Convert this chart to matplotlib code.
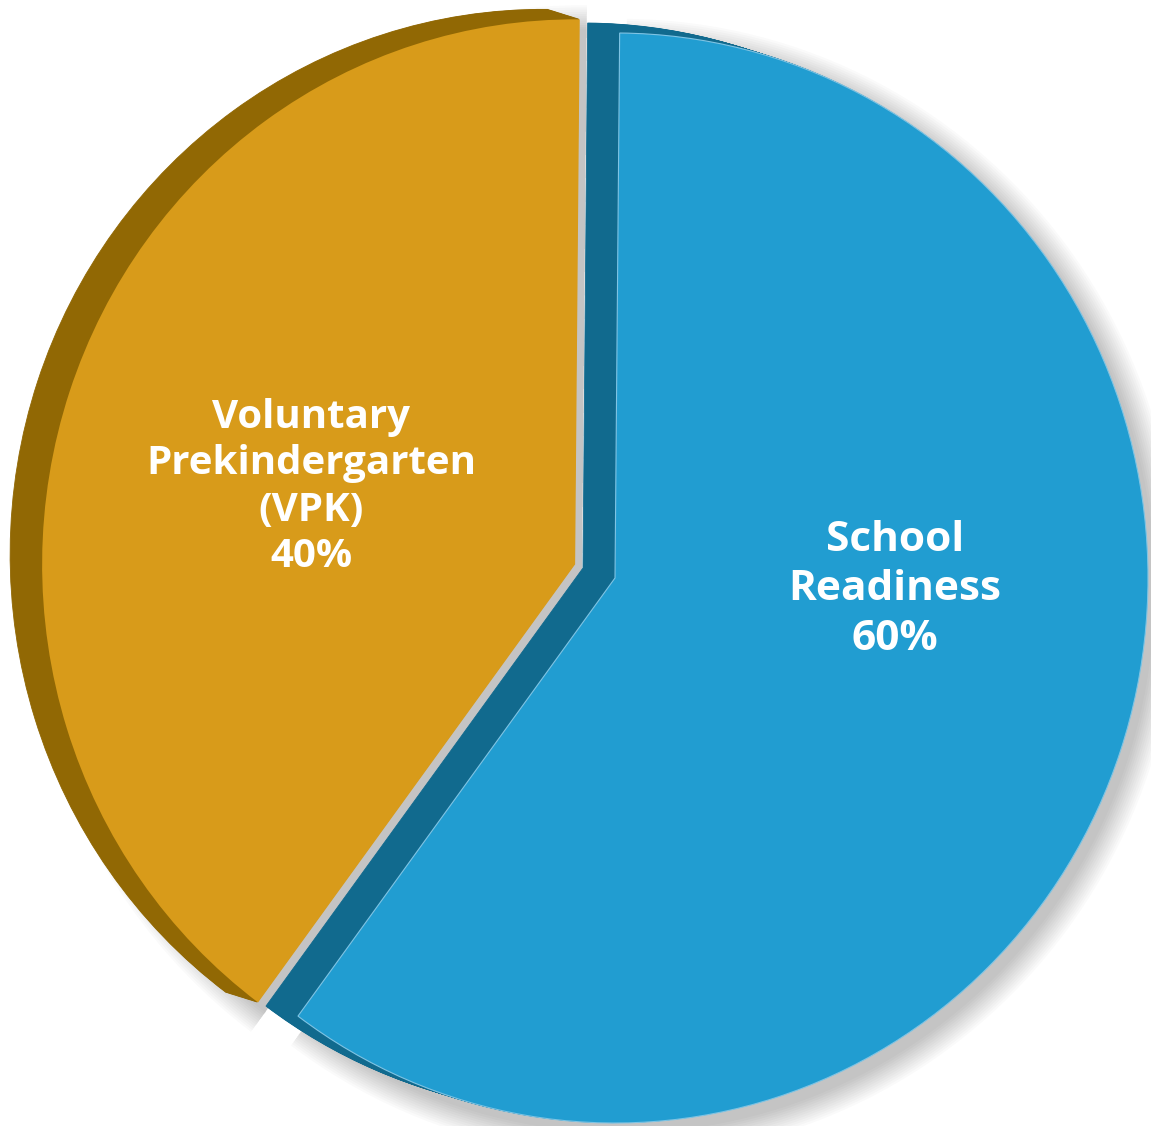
import matplotlib
matplotlib.use("Agg")
import matplotlib.pyplot as plt
import numpy as np

# ---- data ----
categories = ["School\nReadiness", "Voluntary\nPrekindergarten\n(VPK)"]
shares = [60, 40]
pct_labels = ["60%", "40%"]
face_colors = ["#219DD1", "#D89B1A"]
side_colors = ["#116A8E", "#916804"]

# ---- layout ----
W, H = 1151, 1126
SX = 545 / 533.0            # slight horizontal squash (tilted look)
R = 545.0
START = 89.5
EXPLODE = [0, 43]


def px(x, y):
    """pixel position -> data position"""
    return x * SX, H - y


cx, cy = px(615, 578)
ext_dx, ext_dy = -32 * SX, 10     # extrusion direction (up-left)
sh_dx, sh_dy = 7 * SX, -10        # shadow direction (down-right)

fig = plt.figure(figsize=(W / 100, H / 100), dpi=100)
ax = fig.add_axes([0, 0, 1, 1])


def layer(dx, dy, colors, radius=R, alpha=1.0, lw=0.0, ec=None):
    wedges, _ = ax.pie(shares, colors=colors, startangle=START,
                       counterclock=False, radius=radius,
                       center=(cx + dx, cy + dy), explode=EXPLODE,
                       frame=True,
                       wedgeprops=dict(linewidth=lw, alpha=alpha,
                                       edgecolor=ec if ec else "none"))
    return wedges


# soft shadow
for k in range(12):
    layer(sh_dx, sh_dy, ["black", "black"], radius=R + 2.2 * k, alpha=0.02)

# extrusion (side walls)
N = 28
for i in range(N, 0, -1):
    f = i / N
    w = layer(ext_dx * f, ext_dy * f, side_colors)
    for wd, c in zip(w, side_colors):
        wd.set_edgecolor(c)
        wd.set_linewidth(0.6)

# top faces
faces = layer(0, 0, face_colors)
faces[0].set_edgecolor("#7fc4e4")
faces[0].set_linewidth(0.8)

# labels
label_pos = [px(895, 590), px(311, 487)]
label_sizes = [30.5, 29]
label_spacing = [1.27, 1.24]
for cat, pct, (lx, ly), fs, ls in zip(categories, pct_labels, label_pos,
                                      label_sizes, label_spacing):
    ax.text(lx, ly, f"{cat}\n{pct}", ha="center", va="center",
            color="white", fontsize=fs, fontweight="bold",
            family=["Open Sans", "DejaVu Sans"], linespacing=ls)

ax.set_xlim(0, W * SX)
ax.set_ylim(0, H)
ax.set_aspect("auto")
ax.axis("off")

fig.savefig("out.png", dpi=100, facecolor="white")
